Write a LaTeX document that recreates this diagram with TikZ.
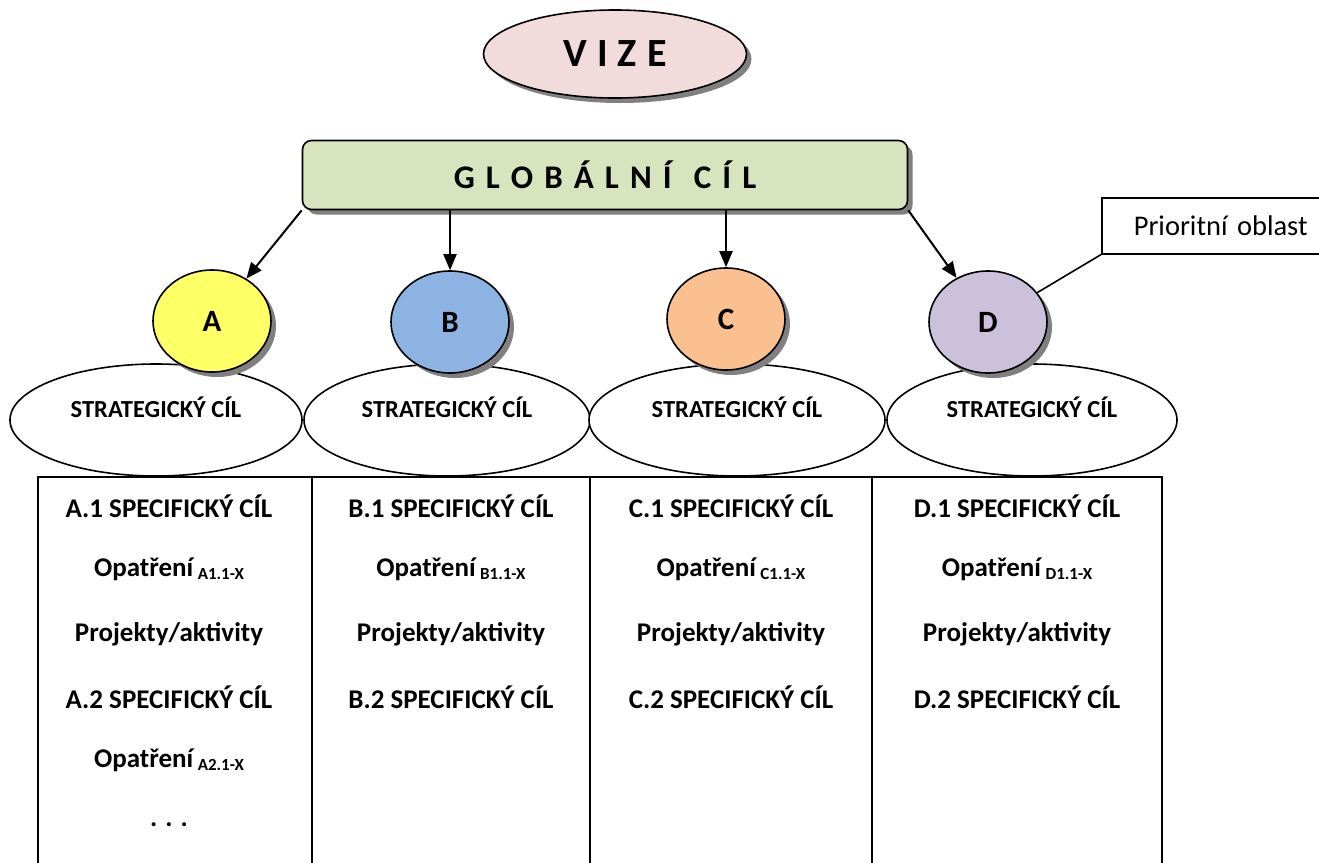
\documentclass[tikz,border=0pt]{standalone}
\usepackage{fontspec}
\setmainfont{Carlito}
\usetikzlibrary{shapes.geometric,shadows,arrows.meta}

\definecolor{vizeRuzova}{HTML}{F2DCDB}
\definecolor{globZelena}{HTML}{D7E4BD}
\definecolor{oblastA}{HTML}{FFFF66}
\definecolor{oblastB}{HTML}{8DB3E2}
\definecolor{oblastC}{HTML}{FAC090}
\definecolor{oblastD}{HTML}{CCC1DA}

\newcommand{\opatreni}[1]{Opatření\,\raisebox{-3pt}{\fontsize{17}{18}\selectfont #1}}

\tikzset{
  cara/.style={line width=1.6pt},
  stin/.style={drop shadow={shadow xshift=5pt,shadow yshift=-5pt,fill=black!50,opacity=1}},
  oblast/.style={ellipse,draw,cara,minimum width=118pt,minimum height=102pt,inner sep=0pt,stin,font=\fontsize{31}{33}\selectfont\bfseries},
  strateg/.style={ellipse,draw,cara,fill=white,minimum height=112pt,inner sep=0pt},
  bunka/.style={font=\fontsize{27}{30}\selectfont\bfseries},
  sipka/.style={line width=2pt,-{Triangle[length=16pt,width=13pt]}},
}

\begin{document}
\begin{tikzpicture}[x=1pt,y=-1pt]
  \useasboundingbox (0,0) rectangle (1319,862);
  \clip (0,0) rectangle (1319,862);
  % Vize
  \node (vize) [ellipse,draw,cara,fill=vizeRuzova,stin,minimum width=263pt,minimum height=88pt,
    font=\fontsize{40}{44}\selectfont\bfseries\addfontfeatures{LetterSpace=3}] at (615,54) {V I Z E};
  % Globalni cil
  \node (glob) [draw,cara,fill=globZelena,stin,rounded corners=9pt,minimum width=605pt,minimum height=69pt,
    font=\fontsize{33}{36}\selectfont\bfseries\addfontfeatures{LetterSpace=11}] at (605,175) {G L O B Á L N Í \ C Í L};
  % Strategicke cile
  \foreach \p/\x/\w in {A/156/292,B/447/286,C/737/296,D/1032/290} {
    \node (s\p) [strateg,minimum width=\w pt] at (\x,420) {};
    \node (st\p) [font=\fontsize{24.5}{26}\selectfont\bfseries] at ([yshift=13pt]s\p.center) {STRATEGICKÝ CÍL};
  }
  % Prioritni oblasti
  \node (A) [oblast,fill=oblastA] at (212,321) {A};
  \node (B) [oblast,fill=oblastB] at (450,322) {B};
  \node (C) [oblast,fill=oblastC] at (726,319) {C};
  \node (D) [oblast,fill=oblastD] at (988,322) {D};
  % Sipky
  \draw [sipka] (glob.south west) -- (A);
  \draw [sipka] (B.north |- glob.south) -- (B.north);
  \draw [sipka] (C.north |- glob.south) -- (C.north);
  \draw [sipka] (glob.south east) -- (D);
  % Popisek
  \node (prio) [draw,cara,anchor=north west,minimum height=56pt,text width=190pt,inner xsep=32pt,align=left,
    font=\fontsize{28.5}{30}\selectfont] at (1101,197) {Prioritní oblast};
  \draw [cara] (prio.south west) -- (D);
  % Tabulka
  \draw [cara] (38,900) -- (38,477) -- (1162,477) -- (1162,900);
  \foreach \x in {312,590,872} \draw [cara] (\x,477) -- (\x,900);
  % Texty v tabulce
  \foreach \p/\x in {A/169,B/451,C/731,D/1017} {
    \node (\p1) [bunka] at (\x,506) {\p.1 SPECIFICKÝ CÍL};
    \node (\p op1) [bunka] at (\x,569) {\opatreni{\p1.1-X}};
    \node (\p pr) [bunka] at (\x,634) {Projekty/aktivity};
    \node (\p2) [bunka] at (\x,697) {\p.2 SPECIFICKÝ CÍL};
  }
  \node (Aop2) [bunka] at (169,760) {\opatreni{A2.1-X}};
  \node (Atecky) [bunka] at (169,825) {. . .};
\end{tikzpicture}
\end{document}
